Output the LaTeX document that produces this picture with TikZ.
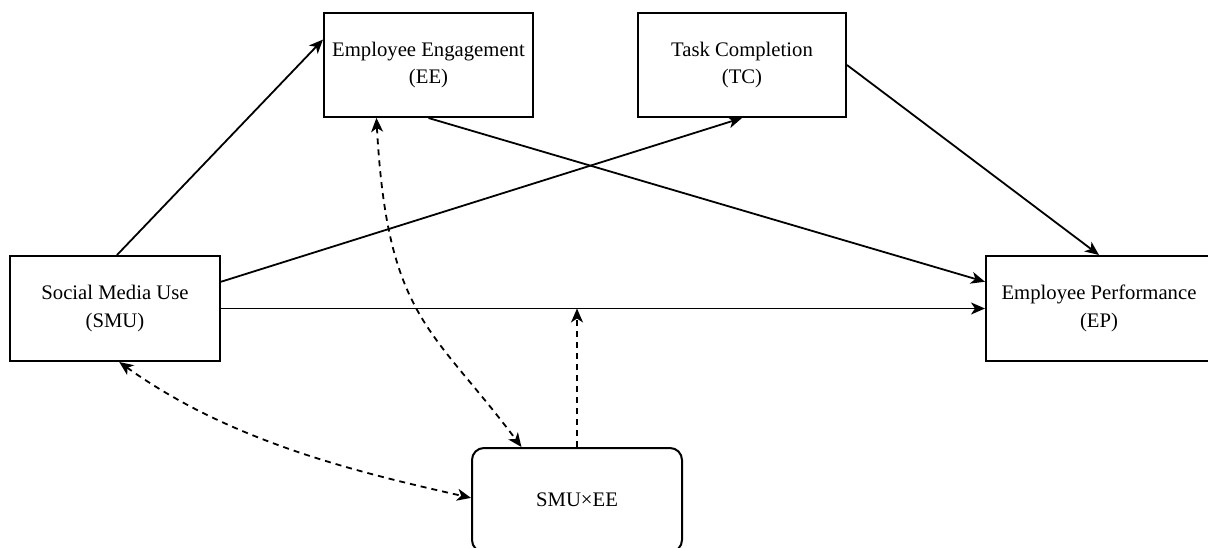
\documentclass[tikz,border=0pt]{standalone}
\usepackage{fontspec}
\setmainfont{Liberation Serif}
\usetikzlibrary{arrows.meta,calc}
\tikzset{
  box/.style={draw, line width=2pt, minimum width=#1, minimum height=104pt, inner sep=0pt, align=center, font=\fontsize{20.7}{27.5}\selectfont},
  box/.default=210pt,
  conn/.style={line width=1.8pt, -{Stealth[length=14pt,width=12pt,inset=4pt]}},
  dconn/.style={line width=1.8pt, dash pattern=on 6pt off 5pt, {Stealth[length=14pt,width=12pt,inset=4pt]}-{Stealth[length=14pt,width=12pt,inset=4pt]}},
  sconn/.style={line width=1.8pt, dash pattern=on 6pt off 5pt, -{Stealth[length=14pt,width=12pt,inset=4pt]}}
}
\begin{document}
\begin{tikzpicture}[x=1pt,y=-1pt]
\clip (0,0) rectangle (1208,547);
\fill[white] (0,0) rectangle (1208,547);
\node[box=210pt, minimum height=105pt] (smu) at (115,308.5) {Social Media Use\\(SMU)};
\node[box=209pt] (ee) at (428.5,65) {Employee Engagement\\(EE)};
\node[box=208pt] (tc) at (742,65) {Task Completion\\(TC)};
\node[box=226pt, minimum height=105pt] (ep) at (1099,308.5) {Employee Performance\\(EP)};
\node[box=210pt, rounded corners=12pt] (int) at (577,500) {SMU×EE};
% solid connectors
\draw[conn] ($(smu.north)+(2,0)$) -- ($(ee.north west)!0.26!(ee.south west)$);
\draw[conn] ($(smu.north east)!0.25!(smu.south east)$) -- (tc.south);
\draw[conn] (ee.south) -- ($(ep.north west)!0.25!(ep.south west)$);
\draw[conn] (tc.east) -- (ep.north);
\draw[conn] (smu.east) -- (ep.west);
% dashed
\coordinate (mod) at (int.north |- smu.east);
\draw[sconn] (int.north) -- (mod);
\coordinate (eeb) at ($(ee.south west)!0.253!(ee.south east)$);
\coordinate (intt) at ($(int.north west)!0.238!(int.north east)$);
\draw[dconn] (eeb) .. controls ($(eeb)+(11,200)$) and ($(intt)+(-90,-120)$) .. (intt);
\coordinate (smub) at ($(smu.south west)!0.52!(smu.south east)$);
\coordinate (intl) at ($(int.north west)!0.48!(int.south west)$);
\draw[dconn] (smub) .. controls ($(smub)+(112,80)$) and ($(intl)+(-115,-26)$) .. (intl);
\end{tikzpicture}
\end{document}
